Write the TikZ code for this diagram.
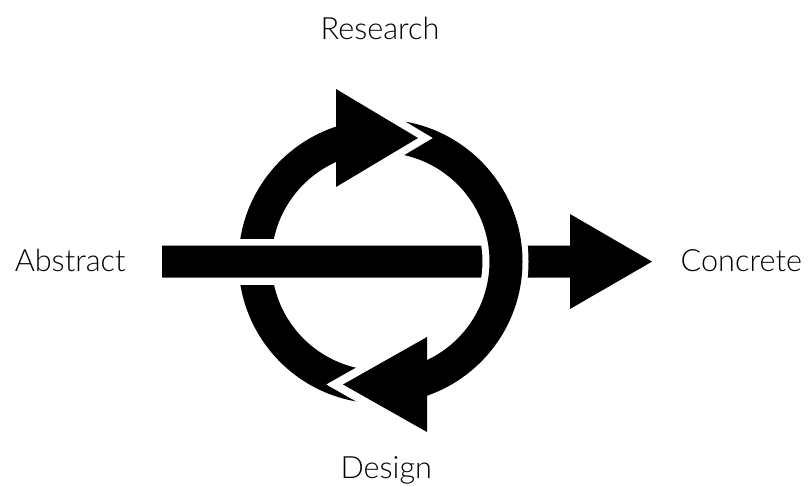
\documentclass[tikz,border=0pt]{standalone}
\usepackage{fontspec}
\setmainfont{Lato}[UprightFont={* Light}]
\newcommand{\labelfont}{\fontsize{23pt}{27pt}\selectfont}
\begin{document}
\begin{tikzpicture}[x=0.75pt,y=-0.75pt,
  lbl/.style={font=\labelfont, inner sep=0pt, anchor=base},
  ink/.style={fill=black},
  ringshape/.style={even odd rule}]
\useasboundingbox (0,0) rectangle (808,486);
\coordinate (C) at (380.5,261.5);
% top-left arc
\begin{scope}
  \clip (150,60) rectangle (336,261.5);
  \fill[ink,ringshape] (C) circle[radius=106.5pt] (C) circle[radius=81.75pt];
\end{scope}
% top arrowhead
\fill[ink] (336,89) -- (418,138) -- (336,187) -- cycle;
% bottom-left arc
\begin{scope}
  \clip (150,261.5) -- (380.5,261.5) -- (368,360.75) -- (326,384.5) -- (376.4,413) -- (376.4,470) -- (150,470) -- cycle;
  \fill[ink,ringshape] (C) circle[radius=106.5pt] (C) circle[radius=81.75pt];
\end{scope}
% white border of the bar
\fill[white] (155,238.5) rectangle (560,284.7);
% bar with arrow
\fill[ink] (162,245.5) -- (570,245.5) -- (570,214) -- (652,261.6) -- (570,309) -- (570,277.7) -- (162,277.7) -- cycle;
% white band where the ring crosses the bar
\begin{scope}
  \clip (460,240) rectangle (550,283);
  \fill[white,ringshape] (C) circle[radius=111pt] (C) circle[radius=76.5pt];
\end{scope}
% right arc
\begin{scope}
  \clip (433,138) -- (380,106.4) -- (380,50) -- (660,50) -- (660,470) -- (427,470) -- (427,261.5) -- (380.5,261.5) -- (380.5,165) -- (400,157.7) -- cycle;
  \fill[ink,ringshape] (C) circle[radius=106.5pt] (C) circle[radius=81.75pt];
\end{scope}
% bottom arrowhead
\fill[ink] (427,337) -- (427,432) -- (343,384.5) -- cycle;
% labels
\node[lbl] (research) at (380,39.3) {Research};
\node[lbl] (abstract) at (70.2,271) {Abstract};
\node[lbl] (concrete) at (741.3,271) {Concrete};
\node[lbl] (design) at (386.3,478.3) {Design};
\end{tikzpicture}
\end{document}
